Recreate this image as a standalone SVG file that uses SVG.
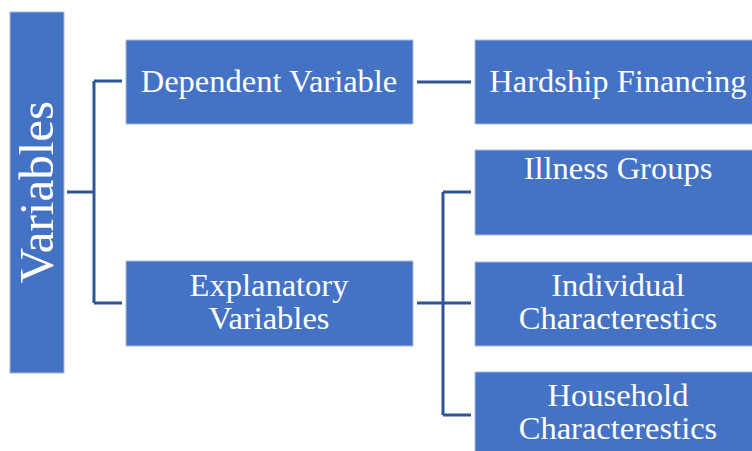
<svg xmlns="http://www.w3.org/2000/svg" width="752" height="451" viewBox="0 0 752 451">
<style>
.box{fill:#4472C4;stroke:#A9BCE2;stroke-width:1}
.t{fill:#FFFFFF;font-family:"Liberation Serif","Times New Roman",serif;font-size:32.5px;text-anchor:middle}
.c{fill:none;stroke:#2F5597;stroke-width:3}
</style>
<rect width="752" height="451" fill="#FFFFFF"/>
<g id="connectors">
<path class="c" d="M67 192H94M94 81V303M94 81H122M94 303H122"/>
<path class="c" d="M417 82H471"/>
<path class="c" d="M417 303H443M443 192V415M443 192H471M443 303H471M443 415H471"/>
</g>
<g id="variables">
<rect class="box" x="10" y="12" width="54" height="361"/>
<text class="t" style="font-size:49px" transform="translate(53 192) rotate(-90)">Variables</text>
</g>
<g id="dependent">
<rect class="box" x="126" y="40" width="287" height="84"/>
<text class="t" x="269" y="92">Dependent Variable</text>
</g>
<g id="hardship">
<rect class="box" x="475" y="40" width="290" height="84"/>
<text class="t" x="618" y="92">Hardship Financing</text>
</g>
<g id="explanatory">
<rect class="box" x="126" y="261" width="287" height="85"/>
<text class="t" x="269" y="296">Explanatory</text>
<text class="t" x="269" y="329">Variables</text>
</g>
<g id="illness">
<rect class="box" x="475" y="150" width="290" height="85"/>
<text class="t" x="618" y="179">Illness Groups</text>
</g>
<g id="individual">
<rect class="box" x="475" y="262" width="290" height="84"/>
<text class="t" x="618" y="296">Individual</text>
<text class="t" x="618" y="329">Characterestics</text>
</g>
<g id="household">
<rect class="box" x="475" y="372" width="290" height="90"/>
<text class="t" x="618" y="406">Household</text>
<text class="t" x="618" y="439">Characterestics</text>
</g>
</svg>
